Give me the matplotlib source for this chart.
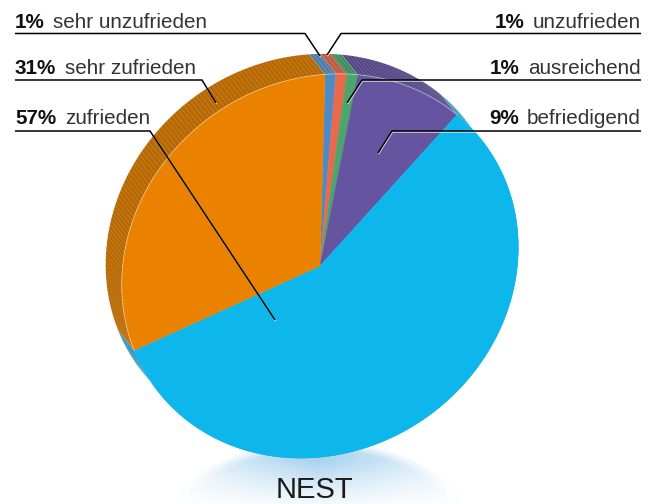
# plot.py
# tilted pie chart for NEST, drawn in pixel coordinates of the reference

import numpy as np
import matplotlib
matplotlib.use("Agg")
import matplotlib.pyplot as plt
from matplotlib.collections import LineCollection

# values as measured on the picture (share of the circle, clockwise)
categories = ["sehr unzufrieden", "unzufrieden", "ausreichend", "befriedigend", "zufrieden", "sehr zufrieden"]
values = [0.9, 0.9, 0.9, 8.6, 56.5, 32.2]
value_labels = ["1%", "1%", "1%", "9%", "57%", "31%"]
face_colors = ["#4D8BC6", "#E9694A", "#4CA56B", "#65549F", "#0DB7EC", "#EA8200"]
rim_colors = ["#4E7EA8", "#BC5A42", "#3F8C5F", "#534687", "#1F8FB5", "#B86800"]
title = "NEST"

START = 1.5
CX, CY = 320, 266
A, B = 205, 185  # the tilted disc is an ellipse
TILT = np.radians(36)  # major axis, above the horizontal
DX, DY = -16, -20
FONT = "Liberation Sans"
SIZE = 14.9

fig = plt.figure(figsize=(6.57, 5.04), dpi=100)
ax = fig.add_axes([0, 0, 1, 1])
ax.set_xlim(0, 657)
ax.set_ylim(504, 0)
ax.axis("off")


def arc(a0, a1, dx=0, dy=0):
    # angles clockwise from the top, as seen on the picture
    t = np.radians(np.arange(a0, a1, 0.25).tolist() + [a1])
    ux, uy = np.sin(t), np.cos(t)
    phi = np.arctan2(uy, ux) - TILT
    r = A * B / np.sqrt((B * np.cos(phi)) ** 2 + (A * np.sin(phi)) ** 2)
    return CX + dx + r * ux, CY + dy - r * uy


# glow under the pie
gx, gy = np.meshgrid(np.arange(150, 490), np.arange(436, 504))
mask = np.clip((1 - ((gx - 318) / 157.0) ** 2 - ((gy - 530) / 90.0) ** 2) * 5, 0, 1)
strength = mask * np.clip(1 - np.abs(gx - 318) / 165.0, 0, 1) ** 0.9 * np.clip((512 - gy) / 52.0, 0, 1) ** 1.2
glow = np.ones(gx.shape + (4,))
glow[..., :3] = (0.45, 0.72, 0.90)
glow[..., 3] = strength * 0.62
ax.imshow(glow, extent=(150, 490, 504, 436), aspect="auto", zorder=1, interpolation="bilinear")
ax.set_xlim(0, 657)
ax.set_ylim(504, 0)

# rim first, the top face covers whatever is not visible
edges = START + np.cumsum([0] + values) * 3.6
for i in range(len(values)):
    x0, y0 = arc(edges[i], edges[i + 1])
    x1, y1 = arc(edges[i], edges[i + 1], DX, DY)
    ax.fill(np.r_[x0, x1[::-1]], np.r_[y0, y1[::-1]], color=rim_colors[i], lw=0, zorder=2)

# pale strips on the rim
strips = []
for a in np.arange(edges[0], edges[-1], 1.2):
    x0, y0 = arc(a, a + 0.01)
    x1, y1 = arc(a, a + 0.01, DX, DY)
    strips.append([(x0[0], y0[0]), (x1[0], y1[0])])
ax.add_collection(LineCollection(strips, colors="white", linewidths=0.5, alpha=0.2, zorder=3))

# top face
for i in range(len(values)):
    x0, y0 = arc(edges[i], edges[i + 1])
    ax.fill(np.r_[CX, x0], np.r_[CY, y0], color=face_colors[i], lw=0.3, ec=face_colors[i], zorder=4)
    if i != 4:
        ax.plot(x0, y0, color="white", lw=0.6, alpha=0.45, zorder=5)

# labels: (text index, baseline y, side)
label_rows = [(0, 28, "left"), (5, 74, "left"), (4, 124, "left"),
              (1, 28, "right"), (2, 74, "right"), (3, 124, "right")]
renderer = fig.canvas.get_renderer()
inv = ax.transData.inverted()
for idx, y, side in label_rows:
    if side == "left":
        b = ax.text(15, y, value_labels[idx], fontfamily=FONT, fontweight="bold", fontsize=SIZE, color="#111111", va="baseline", ha="left", zorder=8)
        right = inv.transform(b.get_window_extent(renderer))[1][0]
        ax.text(right + 8.5, y, categories[idx], fontfamily=FONT, fontsize=SIZE, color="#333333", va="baseline", ha="left", zorder=8)
    else:
        t = ax.text(641, y, categories[idx], fontfamily=FONT, fontsize=SIZE, color="#333333", va="baseline", ha="right", zorder=8)
        left = inv.transform(t.get_window_extent(renderer))[0][0]
        ax.text(left - 8.5, y, value_labels[idx], fontfamily=FONT, fontweight="bold", fontsize=SIZE, color="#111111", va="baseline", ha="right", zorder=8)

# leader lines
leaders = [
    [(15, 33.5), (305, 33.5), (320, 56)],
    [(15, 80), (202, 80), (216, 103)],
    [(15, 131), (150, 131), (275, 320)],
    [(641, 33.5), (341, 33.5), (327, 55)],
    [(641, 80), (362, 80), (347, 103)],
    [(641, 131), (392, 131), (378, 153)],
]
for pts in leaders:
    xs, ys = zip(*pts)
    ax.plot(np.array(xs) + 0.5, np.array(ys) + 1, color="white", lw=1.0, alpha=0.8, zorder=6, solid_capstyle="butt")
    ax.plot(xs, ys, color="black", lw=1.1, zorder=7, solid_capstyle="butt")

ax.text(314, 498, title, fontfamily=FONT, fontsize=21, color="#1a1a1a", ha="center", va="baseline", zorder=8)

fig.savefig("out.png", dpi=100)
